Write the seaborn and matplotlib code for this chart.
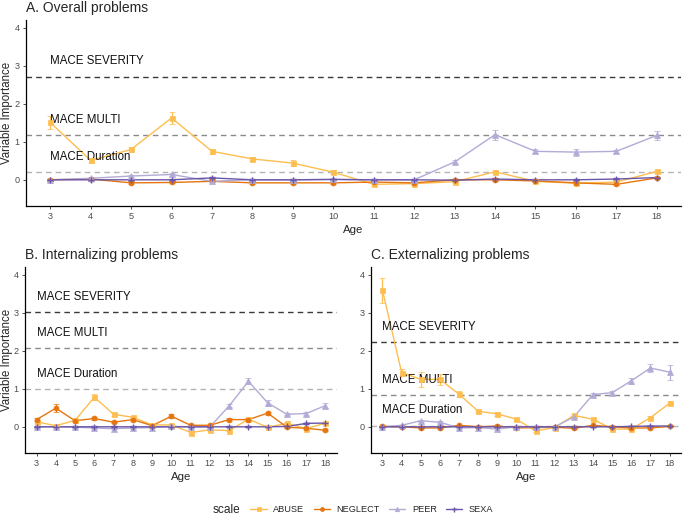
import numpy as np
import pandas as pd
import seaborn as sns
import matplotlib
matplotlib.use("Agg")
import matplotlib.pyplot as plt
from matplotlib.lines import Line2D

# ---------------- data ----------------
ages = list(range(3, 19))
scales = ["ABUSE", "NEGLECT", "PEER", "SEXA"]

# Panel A: Overall problems
A_abuse = [1.51, 0.51, 0.80, 1.63, 0.75, 0.55, 0.44, 0.20, -0.12, -0.10, -0.05, 0.21, -0.04, -0.09, -0.06, 0.22]
A_neglect = [0.00, 0.02, -0.08, -0.07, -0.04, -0.08, -0.08, -0.08, -0.06, -0.08, 0.00, 0.00, -0.03, -0.08, -0.12, 0.05]
A_peer = [0.00, 0.04, 0.10, 0.14, -0.04, 0.00, 0.00, 0.01, 0.00, 0.00, 0.47, 1.19, 0.75, 0.73, 0.75, 1.17]
A_sexa = [0.00, 0.00, 0.00, 0.00, 0.05, 0.00, 0.00, 0.01, 0.00, 0.00, -0.01, 0.02, 0.00, 0.00, 0.02, 0.06]
A_abuse_err = [0.17, 0.06, 0.06, 0.15, 0.07, 0.05, 0.07, 0.05, 0.04, 0.04, 0.03, 0.04, 0.03, 0.04, 0.03, 0.05]
A_peer_err = [0.03, 0.03, 0.03, 0.03, 0.03, 0.02, 0.02, 0.02, 0.02, 0.02, 0.04, 0.13, 0.05, 0.09, 0.04, 0.11]
A_neglect_err = [0.02] * 16
A_sexa_err = [0.02] * 16

# Panel B: Internalizing problems
B_abuse = [0.13, 0.03, 0.17, 0.78, 0.33, 0.25, 0.05, 0.05, -0.15, -0.08, -0.10, 0.20, -0.01, 0.09, -0.05, 0.10]
B_neglect = [0.19, 0.49, 0.16, 0.22, 0.12, 0.19, 0.03, 0.28, 0.04, 0.04, 0.19, 0.19, 0.36, -0.01, -0.04, -0.09]
B_peer = [0.00, 0.00, -0.01, -0.03, -0.05, -0.03, -0.02, 0.01, 0.00, 0.00, 0.55, 1.20, 0.63, 0.33, 0.35, 0.56]
B_sexa = [0.00, 0.00, 0.00, 0.00, 0.00, 0.00, 0.00, 0.00, 0.00, 0.00, 0.00, 0.00, 0.00, 0.01, 0.09, 0.10]
B_abuse_err = [0.03, 0.02, 0.03, 0.08, 0.04, 0.04, 0.02, 0.02, 0.03, 0.02, 0.02, 0.03, 0.02, 0.03, 0.03, 0.03]
B_neglect_err = [0.03, 0.10, 0.03, 0.03, 0.03, 0.03, 0.02, 0.05, 0.02, 0.02, 0.03, 0.03, 0.04, 0.02, 0.02, 0.02]
B_peer_err = [0.02, 0.02, 0.02, 0.02, 0.02, 0.02, 0.02, 0.02, 0.02, 0.02, 0.04, 0.08, 0.07, 0.03, 0.03, 0.06]
B_sexa_err = [0.01] * 16

# Panel C: Externalizing problems
C_abuse = [3.60, 1.43, 1.25, 1.25, 0.86, 0.41, 0.34, 0.20, -0.11, -0.02, 0.30, 0.20, -0.06, -0.06, 0.24, 0.62]
C_neglect = [0.01, 0.00, -0.03, -0.03, 0.04, 0.00, 0.02, -0.03, -0.02, -0.01, -0.04, 0.04, 0.00, -0.03, -0.03, 0.01]
C_peer = [0.00, 0.04, 0.16, 0.12, -0.03, -0.02, -0.06, 0.00, 0.00, 0.00, 0.26, 0.85, 0.90, 1.21, 1.55, 1.44]
C_sexa = [0.00, 0.00, 0.00, 0.00, 0.00, 0.00, 0.00, 0.00, 0.00, 0.00, 0.00, 0.00, 0.00, 0.01, 0.02, 0.02]
C_abuse_err = [0.33, 0.10, 0.20, 0.15, 0.08, 0.04, 0.05, 0.03, 0.03, 0.02, 0.04, 0.03, 0.03, 0.03, 0.04, 0.05]
C_neglect_err = [0.02] * 16
C_peer_err = [0.02, 0.02, 0.03, 0.03, 0.02, 0.02, 0.02, 0.02, 0.02, 0.02, 0.03, 0.05, 0.05, 0.07, 0.11, 0.20]
C_sexa_err = [0.01] * 16

# reference lines (MACE) per panel
mace_labels = ["MACE SEVERITY", "MACE MULTI", "MACE Duration"]
A_mace = [2.72, 1.17, 0.21]
B_mace = [3.02, 2.07, 0.99]
C_mace = [2.23, 0.84, 0.03]

panel_titles = ["A. Overall problems", "B. Internalizing problems", "C. Externalizing problems"]

# ---------------- build table ----------------
rows = []
panel_data = {
    "A": ([A_abuse, A_neglect, A_peer, A_sexa], [A_abuse_err, A_neglect_err, A_peer_err, A_sexa_err]),
    "B": ([B_abuse, B_neglect, B_peer, B_sexa], [B_abuse_err, B_neglect_err, B_peer_err, B_sexa_err]),
    "C": ([C_abuse, C_neglect, C_peer, C_sexa], [C_abuse_err, C_neglect_err, C_peer_err, C_sexa_err]),
}
for p, (vals, errs) in panel_data.items():
    for s, v, e in zip(scales, vals, errs):
        for a, vv, ee in zip(ages, v, e):
            rows.append(dict(panel=p, scale=s, age=a, value=vv, err=ee))
df = pd.DataFrame(rows)

# ---------------- style ----------------
sns.set_theme(style="ticks")
plt.rcParams["font.family"] = ["Liberation Sans", "DejaVu Sans"]

palette = {"ABUSE": "#FDBE4F", "NEGLECT": "#E6750F", "PEER": "#B2ABD6", "SEXA": "#6A55A8"}
markers = {"ABUSE": "s", "NEGLECT": "o", "PEER": "^", "SEXA": "+"}
msizes = {"ABUSE": 3.6, "NEGLECT": 3.6, "PEER": 4.0, "SEXA": 4.5}
line_cols = ["#3a3a3a", "#8a8a8a", "#b3b3b3"]

W, H = 683, 515
fig = plt.figure(figsize=(W / 100, H / 100), dpi=100)


def rect(l, r, t, b):
    return [l / W, 1 - b / H, (r - l) / W, (b - t) / H]


axes_px = {
    "A": (26, 681, 20, 206),
    "B": (25, 337, 267, 453),
    "C": (371, 681, 267, 453),
}
mace_vals = {"A": A_mace, "B": B_mace, "C": C_mace}

for i, (p, px) in enumerate(axes_px.items()):
    ax = fig.add_axes(rect(*px))
    sub = df[df.panel == p]
    sns.lineplot(data=sub, x="age", y="value", hue="scale", hue_order=scales,
                 palette=palette, ax=ax, legend=False, linewidth=1.0, errorbar=None)
    for s in scales:
        ss = sub[sub.scale == s]
        ax.errorbar(ss.age, ss.value, yerr=ss.err, fmt=markers[s], color=palette[s],
                    ms=msizes[s], mew=1.0 if s == "SEXA" else 0.5, elinewidth=0.9,
                    capsize=2, capthick=0.9, zorder=3)
    for lab, yv, col in zip(mace_labels, mace_vals[p], line_cols):
        ax.axhline(yv, color=col, lw=1.0, ls=(0, (4, 3)), zorder=1)
        ax.text(3, yv + 0.4, lab, ha="left", va="center", fontsize=8.3, color="#111111")
    ax.set_xlim(2.4, 18.6)
    ax.set_ylim(-0.69, 4.21)
    ax.set_xticks(ages)
    ax.set_xticklabels([str(a) for a in ages])
    ax.set_yticks([0, 1, 2, 3, 4])
    ax.tick_params(axis="both", labelsize=6.6, labelcolor="#4d4d4d", color="#333333",
                   length=2.5, width=0.6, pad=2)
    for sp in ["top", "right"]:
        ax.spines[sp].set_visible(False)
    for sp in ["left", "bottom"]:
        ax.spines[sp].set_linewidth(0.9)
        ax.spines[sp].set_color("black")
    ax.set_xlabel("Age", fontsize=8.2, labelpad=3)
    if p in ("A", "B"):
        ax.set_ylabel("Variable Importance", fontsize=8.3, va="center")
        l, r, t, b = px
        ax.yaxis.set_label_coords((7 - l) / (r - l), 0.5)
    else:
        ax.set_ylabel("")
    ax.set_title(panel_titles[i], loc="left", fontsize=10, pad=6)

# legend
fig.text(213 / W, 1 - 510 / H, "scale", fontsize=8.6, ha="left", va="center")
handles = [Line2D([0], [0], color=palette[s], marker=markers[s], ms=msizes[s] * 0.8,
                  lw=1.0, mew=1.0 if s == "SEXA" else 0.5) for s in scales]
fig.legend(handles, scales, loc="center", bbox_to_anchor=(372 / W, 1 - 510 / H),
           ncol=4, frameon=False, fontsize=6.6, handlelength=1.75, handletextpad=0.75,
           columnspacing=1.0, borderpad=0, borderaxespad=0)

fig.savefig("out.png", dpi=100)
